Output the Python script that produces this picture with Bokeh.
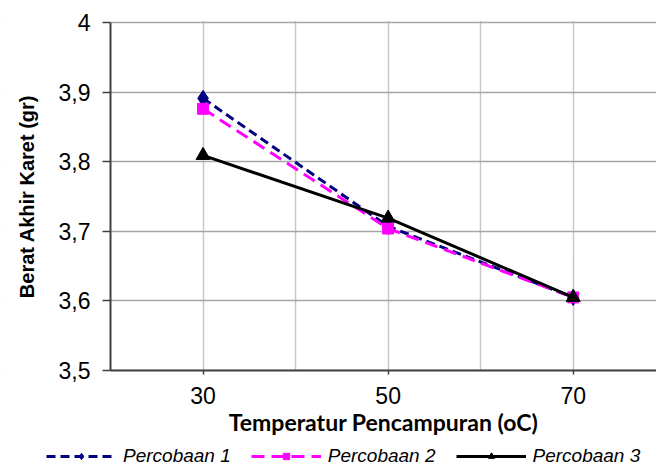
from bokeh.plotting import figure
from bokeh.models import (Range1d, FixedTicker, Legend, LegendItem, CustomJSTickFormatter,
                          BoxAnnotation)
from bokeh.embed import file_html
from bokeh.resources import INLINE

# Mixing temperature (oC) and final rubber weight (gr) for three trials
temperatur = [30, 50, 70]
percobaan_1 = [3.891, 3.707, 3.605]
percobaan_2 = [3.876, 3.704, 3.605]
percobaan_3 = [3.809, 3.719, 3.605]

x_ticks = [30, 50, 70]
y_ticks = [3.5, 3.6, 3.7, 3.8, 3.9, 4.0]

# The frame fills the whole canvas; axes sit at fixed data positions inside it so the
# legend row beneath the x-axis title has room without a separate side panel.
p = figure(width=656, height=467, frame_width=656, frame_height=467, title=None,
           output_backend="svg", toolbar_location=None,
           x_range=Range1d(8.11, 79.0), y_range=Range1d(3.3606, 4.0316),
           min_border_left=0, min_border_right=0, min_border_top=0, min_border_bottom=0)
p.outline_line_color = None
p.background_fill_color = "white"
p.border_fill_color = "white"

# grid
p.xgrid.ticker = FixedTicker(ticks=[30, 40, 50, 60, 70])
p.ygrid.ticker = FixedTicker(ticks=y_ticks)
p.xgrid.grid_line_color = "#C8C8C8"
p.ygrid.grid_line_color = "#A6A6A6"
p.xgrid.grid_line_width = 1.5
p.ygrid.grid_line_width = 1.5

# white masks keep the grid inside the plotting area (x >= 20, 3.5 <= y <= 4)
for box in (BoxAnnotation(right=20), BoxAnnotation(top=3.5), BoxAnnotation(bottom=4.0022)):
    box.fill_color = "white"
    box.fill_alpha = 1.0
    box.line_alpha = 0
    box.level = "underlay"
    p.add_layout(box)

# axes
p.xaxis.ticker = FixedTicker(ticks=x_ticks)
p.yaxis.ticker = FixedTicker(ticks=y_ticks)
p.yaxis.formatter = CustomJSTickFormatter(
    code="return (Math.abs(tick - 4) < 1e-9) ? '4' : tick.toFixed(1).replace('.', ',');")
for ax in (p.xaxis[0], p.yaxis[0]):
    ax.axis_line_color = "#404040"
    ax.axis_line_width = 2
    ax.major_tick_line_color = "#404040"
    ax.major_tick_line_width = 1.5
    ax.minor_tick_line_color = None
    ax.major_label_text_font = "Liberation Sans"
    ax.major_label_text_font_size = "23px"
    ax.major_label_text_color = "black"
    ax.axis_label_text_font_style = "bold"
    ax.axis_label_text_color = "black"

p.xaxis.fixed_location = 3.5
p.xaxis.bounds = (20, 79.0)
p.xaxis.major_tick_in = 0
p.xaxis.major_tick_out = 4
p.xaxis.major_label_standoff = 13
p.xaxis.axis_label = "Temperatur Pencampuran (oC)"
p.xaxis.axis_label_text_font = "Lato"
p.xaxis.axis_label_text_font_size = "23px"
p.xaxis.axis_label_standoff = 0

p.yaxis.fixed_location = 20
p.yaxis.bounds = (3.5, 4.0)
p.yaxis.major_tick_in = 0
p.yaxis.major_tick_out = 8
p.yaxis.major_label_standoff = 12
p.yaxis.axis_label = "Berat Akhir Karet (gr)"
p.yaxis.axis_label_text_font = "Liberation Sans"
p.yaxis.axis_label_text_font_size = "20px"
p.yaxis.axis_label_standoff = 18

# series
l1 = p.line(temperatur, percobaan_1, line_color="#000080", line_width=3, line_dash="9 5")
m1 = p.scatter(temperatur, percobaan_1, marker="diamond", size=16, fill_color="#000080",
               line_color="#000080")
l2 = p.line(temperatur, percobaan_2, line_color="#FF00FF", line_width=3, line_dash="13 7")
m2 = p.scatter(temperatur, percobaan_2, marker="square", size=11, fill_color="#FF00FF",
               line_color="#FF00FF")
l3 = p.line(temperatur, percobaan_3, line_color="black", line_width=3)
m3 = p.scatter(temperatur, percobaan_3, marker="triangle", size=14, fill_color="black",
               line_color="black")

# legend row along the bottom edge
legend = Legend(items=[
    LegendItem(label="Percobaan 1", renderers=[l1, m1]),
    LegendItem(label="Percobaan 2", renderers=[l2, m2]),
    LegendItem(label="Percobaan 3", renderers=[l3, m3]),
], orientation="horizontal", location=(46, 0))
legend.label_text_font = "Liberation Sans"
legend.label_text_font_style = "italic"
legend.label_text_font_size = "19px"
legend.label_text_color = "black"
legend.glyph_width = 70
legend.glyph_height = 16
legend.label_height = 16
legend.spacing = 20
legend.label_standoff = 7
legend.padding = 0
legend.margin = 0
legend.border_line_color = None
legend.background_fill_alpha = 0
p.add_layout(legend)

open("out.html", "w").write(file_html(p, INLINE))
